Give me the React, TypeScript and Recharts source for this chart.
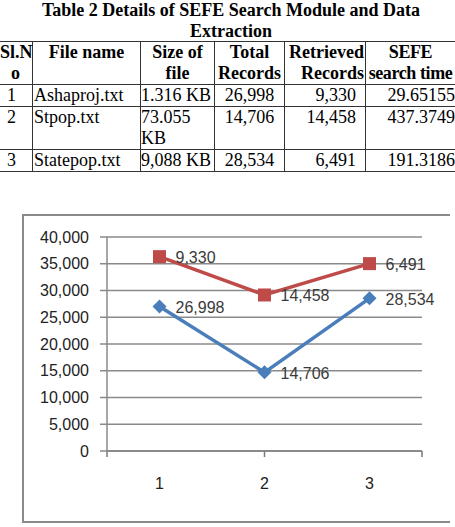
import React from 'react';
import { LineChart, Line, XAxis, YAxis, CartesianGrid, LabelList } from 'recharts';

const categories = ['1', '2', '3'];
const fileNames = ['Ashaproj.txt', 'Stpop.txt', 'Statepop.txt'];
const fileSizes = ['1.316 KB', '73.055 KB', '9,088 KB'];
const totalRecords = [26998, 14706, 28534];
const retrievedRecords = [9330, 14458, 6491];
const searchTimes = ['29.65155', '437.3749', '191.3186'];
const yTicks = [0, 5000, 10000, 15000, 20000, 25000, 30000, 35000, 40000];
const boundaryTicks = [0, 1, 2, 3];

// red series is stacked on top of the blue one (labels keep the own value)
const chartData = categories.map((c, i) => ({
  name: c,
  total: totalRecords[i],
  retrieved: retrievedRecords[i],
  stacked: totalRecords[i] + retrievedRecords[i],
}));

const BLUE = '#4a7ebb';
const RED = '#be4b48';
const GRID = '#8a8a8a';
const fmt = (v: number) => v.toLocaleString('en-US');

const Diamond = (p: any) => (
  <path
    key={`d-${p.index}`}
    d={`M${p.cx},${p.cy - 7} L${p.cx + 7},${p.cy} L${p.cx},${p.cy + 7} L${p.cx - 7},${p.cy} Z`}
    fill={BLUE}
  />
);

const Square = (p: any) => (
  <rect key={`s-${p.index}`} x={p.cx - 6.5} y={p.cy - 6.5} width={13} height={13} fill={RED} />
);

const PointLabel = (p: any) => (
  <text
    x={p.x + 16}
    y={p.y + 2}
    dominantBaseline="middle"
    textAnchor="start"
    fontSize={16}
    fontFamily="'Liberation Sans', Arial, sans-serif"
    fill="#3a3a3a"
  >
    {fmt(p.value)}
  </text>
);

const cell: React.CSSProperties = {
  border: '1px solid #333',
  padding: '0 1px',
  verticalAlign: 'top',
  lineHeight: '21px',
};

const App: React.FC = () => {
  return (
    <div
      style={{
        position: 'absolute',
        left: 0,
        top: 0,
        width: 455,
        height: 527,
        overflow: 'hidden',
        background: '#fff',
        fontFamily: "'Liberation Serif', 'Times New Roman', serif",
        fontSize: 18,
        color: '#000',
      }}
    >
      {/* table title */}
      <div style={{ textAlign: 'center', fontWeight: 'bold', lineHeight: '21px', width: 462 }}>
        Table 2 Details of SEFE Search Module and Data
        <br />
        Extraction
      </div>

      <table
        style={{
          position: 'absolute',
          left: -2,
          top: 41,
          borderCollapse: 'collapse',
          tableLayout: 'fixed',
          width: 462,
        }}
      >
        <colgroup>
          <col style={{ width: 34 }} />
          <col style={{ width: 108 }} />
          <col style={{ width: 74 }} />
          <col style={{ width: 70 }} />
          <col style={{ width: 81 }} />
          <col style={{ width: 95 }} />
        </colgroup>
        <thead>
          <tr style={{ fontWeight: 'bold' }}>
            <th style={{ ...cell, textAlign: 'center' }}>Sl.N<br />o</th>
            <th style={{ ...cell, textAlign: 'center' }}>File name</th>
            <th style={{ ...cell, textAlign: 'center' }}>Size of<br />file</th>
            <th style={{ ...cell, textAlign: 'center' }}>Total<br />Records</th>
            <th style={{ ...cell, textAlign: 'right' }}>Retrieved<br />Records</th>
            <th
              style={{
                ...cell,
                textAlign: 'center',
                whiteSpace: 'nowrap',
                letterSpacing: -0.4,
                paddingRight: 6,
              }}
            >
              SEFE<br />search time
            </th>
          </tr>
        </thead>
        <tbody>
          {categories.map((c, i) => (
            <tr key={c}>
              <td style={{ ...cell, paddingLeft: 8 }}>{c}</td>
              <td style={cell}>{fileNames[i]}</td>
              <td style={{ ...cell, padding: 0 }}>{fileSizes[i]}</td>
              <td style={{ ...cell, textAlign: 'center' }}>{fmt(totalRecords[i])}</td>
              <td style={{ ...cell, textAlign: 'right', paddingRight: 9 }}>{fmt(retrievedRecords[i])}</td>
              <td style={{ ...cell, textAlign: 'right', paddingRight: 5 }}>{searchTimes[i]}</td>
            </tr>
          ))}
        </tbody>
      </table>

      {/* chart frame */}
      <div
        style={{
          position: 'absolute',
          left: 22,
          top: 214,
          width: 426,
          height: 305,
          borderLeft: `2px solid ${GRID}`,
          borderTop: `2px solid ${GRID}`,
          borderBottom: `2px solid ${GRID}`,
        }}
      />

      <div style={{ position: 'absolute', left: 0, top: 190 }}>
        <LineChart
          width={455}
          height={337}
          data={chartData}
          margin={{ top: 47, right: 33, bottom: 0, left: 0 }}
        >
          <CartesianGrid xAxisId="cat" horizontal vertical={false} stroke={GRID} strokeWidth={1.5} />
          {/* boundary tick marks between categories, Excel style */}
          <XAxis
            xAxisId="bounds"
            type="number"
            domain={[0, 3]}
            ticks={boundaryTicks}
            allowDataOverflow
            tickFormatter={() => ''}
            height={6}
            tickSize={6}
            axisLine={{ stroke: GRID, strokeWidth: 2 }}
            tickLine={{ stroke: '#7a7a7a', strokeWidth: 1.5 }}
          />
          <XAxis
            xAxisId="cat"
            dataKey="name"
            scale="band"
            axisLine={false}
            tickLine={false}
            tickSize={0}
            tickMargin={21}
            height={70}
            tick={{ fontSize: 16, fill: '#222', fontFamily: "'Liberation Sans', Arial, sans-serif" }}
          />
          <YAxis
            domain={[0, 40000]}
            ticks={yTicks}
            width={107}
            tickSize={7}
            tickMargin={11}
            tickFormatter={fmt}
            axisLine={{ stroke: GRID, strokeWidth: 1.5 }}
            tickLine={{ stroke: GRID, strokeWidth: 1.5 }}
            tick={{ fontSize: 16, fill: '#222', fontFamily: "'Liberation Sans', Arial, sans-serif" }}
          />
          <Line
            xAxisId="cat"
            dataKey="total"
            stroke={BLUE}
            strokeWidth={3.5}
            dot={Diamond}
            activeDot={false}
            isAnimationActive={false}
          >
            <LabelList dataKey="total" content={PointLabel} />
          </Line>
          <Line
            xAxisId="cat"
            dataKey="stacked"
            stroke={RED}
            strokeWidth={3.5}
            dot={Square}
            activeDot={false}
            isAnimationActive={false}
          >
            <LabelList dataKey="retrieved" content={PointLabel} />
          </Line>
        </LineChart>
      </div>
    </div>
  );
};

export default App;
